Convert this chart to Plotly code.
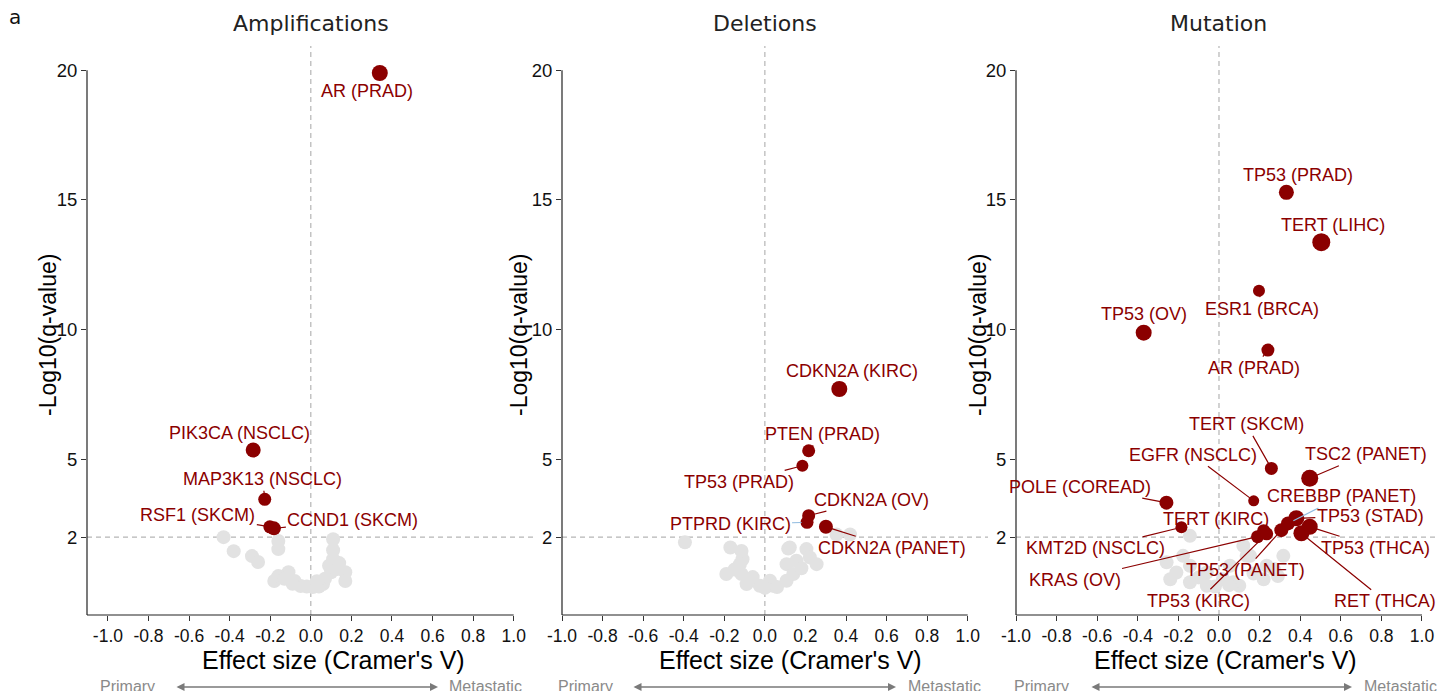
import plotly.graph_objects as go

# ---------------- data ----------------
# Amplifications: significant hits
amp_labels = ["AR (PRAD)", "PIK3CA (NSCLC)", "MAP3K13 (NSCLC)", "RSF1 (SKCM)", "CCND1 (SKCM)"]
amp_effect = [0.34, -0.284, -0.227, -0.202, -0.182]
amp_logq = [19.89, 5.36, 3.46, 2.40, 2.34]
amp_weight = [16, 15, 13, 13, 14]
# Amplifications: non-significant tests
amp_ns_effect = [-0.43, -0.38, -0.29, -0.26, -0.16, -0.16, -0.18, -0.16, -0.11, -0.08, -0.05,
                 0.01, 0.06, 0.10, 0.11, 0.11, 0.13, 0.17, 0.17, 0.11, 0.09, 0.07, -0.02,
                 0.04, -0.13, -0.09, 0.14, 0.03]
amp_ns_logq = [2.0, 1.46, 1.27, 1.04, 1.85, 1.54, 0.31, 0.5, 0.65, 0.31, 0.12,
               0.08, 0.19, 0.65, 1.15, 1.92, 0.77, 0.65, 0.31, 1.5, 0.9, 0.4, 0.1,
               0.1, 0.4, 0.2, 1.0, 0.3]

# Deletions: significant hits
del_labels = ["CDKN2A (KIRC)", "PTEN (PRAD)", "TP53 (PRAD)", "CDKN2A (OV)", "PTPRD (KIRC)", "CDKN2A (PANET)"]
del_effect = [0.367, 0.216, 0.185, 0.216, 0.208, 0.301]
del_logq = [7.71, 5.33, 4.75, 2.83, 2.57, 2.40]
del_weight = [16, 13, 12, 13, 13, 14]
# Deletions: non-significant tests
del_ns_effect = [-0.394, -0.17, -0.115, -0.11, -0.19, -0.115, -0.09, -0.025, 0.04, 0.107,
                 0.123, 0.205, 0.107, 0.156, 0.222, 0.255, 0.14, 0.353, 0.42, -0.123,
                 -0.06, 0.025, 0.115, 0.0, 0.06, -0.15, 0.18]
del_ns_logq = [1.80, 1.6, 1.47, 1.15, 0.58, 0.58, 0.19, 0.13, 0.13, 0.32,
               1.6, 1.54, 0.96, 1.09, 1.22, 0.96, 0.58, 2.1, 2.1, 0.96,
               0.46, 0.32, 1.56, 0.05, 0.08, 0.75, 0.8]

# Mutations: significant hits
mut_labels = ["TP53 (PRAD)", "TERT (LIHC)", "ESR1 (BRCA)", "TP53 (OV)", "AR (PRAD)",
              "TERT (SKCM)", "TSC2 (PANET)", "EGFR (NSCLC)", "POLE (COREAD)", "KMT2D (NSCLC)",
              "TERT (KIRC)", "KRAS (OV)", "TP53 (KIRC)", "TP53 (PANET)", "CREBBP (PANET)",
              "TP53 (STAD)", "TP53 (THCA)", "RET (THCA)"]
mut_effect = [0.332, 0.504, 0.197, -0.371, 0.241,
              0.258, 0.447, 0.171, -0.259, -0.185,
              0.22, 0.19, 0.235, 0.307, 0.34,
              0.381, 0.447, 0.406]
mut_logq = [15.29, 13.37, 11.50, 9.88, 9.21,
            4.65, 4.27, 3.40, 3.33, 2.38,
            2.25, 2.02, 2.13, 2.27, 2.53,
            2.73, 2.40, 2.15]
mut_weight = [15, 18, 12, 16, 13,
              13, 17, 11, 14, 12,
              13, 13, 13, 14, 14,
              16, 16, 16]
# Mutations: non-significant tests
mut_ns_effect = [-0.143, -0.258, -0.24, -0.143, -0.06, 0.12, 0.136, 0.317, 0.235, 0.02,
                 -0.143, -0.06, 0.10, 0.22, 0.27, -0.21, 0.054, -0.177, 0.153, 0.07,
                 -0.10, 0.17, 0.29, -0.02, 0.05]
mut_ns_logq = [2.05, 1.03, 0.38, 0.9, 0.64, 1.67, 1.28, 1.28, 0.9, 0.38,
               0.26, 0.13, 0.13, 0.38, 0.77, 0.64, 0.9, 1.28, 1.28, 0.26,
               0.45, 0.6, 0.5, 0.1, 0.15]

y_ticks = [2, 5, 10, 15, 20]
x_ticks = [-1.0, -0.8, -0.6, -0.4, -0.2, 0.0, 0.2, 0.4, 0.6, 0.8, 1.0]
panel_titles = ["Amplifications", "Deletions", "Mutation"]
q_cutoff = 2

# ---------------- layout constants ----------------
W, H = 1437, 691
HIT = "#8b0000"
NS = "#e2e2e2"
LABEL_FONT = "Liberation Sans, Arial, sans-serif"
TITLE_FONT = "DejaVu Sans, sans-serif"

# plotting regions (pixels): left, right, and x range of each panel
panels = [
    dict(left=87, right=534, xr=[-1.103, 1.1]),
    dict(left=562, right=988, xr=[-1.0, 1.1]),
    dict(left=1016, right=1437, xr=[-1.0, 1.074]),
]
top_px, bottom_px = 46, 615
y_range = [-1.0, 20.93]

# label offsets (pixels from the point) for the repelled labels
amp_offsets = [(-13, 18), (-14, -17), (-2, -20), (-72, -12), (79, -8)]
del_offsets = [(13, -18), (14, -17), (-63, 16), (63, -16), (-77, 2), (66, 21)]
mut_offsets = [(12, -17), (12, -17), (3, 18), (0, -19), (-14, 18),
               (-25, -44), (56, -24), (-61, -46), (-86, -16), (-86, 21),
               (-48, -12), (-183, 43), (-68, 67), (-36, 40), (53, -27),
               (74, -2), (66, 21), (84, 68)]
blue_segments = {"PTPRD (KIRC)", "CREBBP (PANET)", "TERT (KIRC)"}

fig = go.Figure()

datasets = [
    (amp_labels, amp_effect, amp_logq, amp_weight, amp_ns_effect, amp_ns_logq, amp_offsets),
    (del_labels, del_effect, del_logq, del_weight, del_ns_effect, del_ns_logq, del_offsets),
    (mut_labels, mut_effect, mut_logq, mut_weight, mut_ns_effect, mut_ns_logq, mut_offsets),
]

annotations = []
shapes = []
layout_axes = {}

y0_dom = (H - bottom_px) / H
y1_dom = (H - top_px) / H


def paper_text(px, py, text, size, color, family=LABEL_FONT, xanchor="center", angle=0):
    return dict(x=px / W, y=(H - py) / H, xref="paper", yref="paper", text=text,
                showarrow=False, xanchor=xanchor, yanchor="middle", textangle=angle,
                font=dict(family=family, size=size, color=color))


for i, (labels, ex, ly, wt, nx, ny, offs) in enumerate(datasets):
    k = "" if i == 0 else str(i + 1)
    xa, ya = "x" + k, "y" + k
    p = panels[i]

    fig.add_trace(go.Scatter(
        x=nx, y=ny, mode="markers", xaxis=xa, yaxis=ya,
        marker=dict(color=NS, size=14, opacity=1, line=dict(width=0)),
        hoverinfo="skip", showlegend=False))
    fig.add_trace(go.Scatter(
        x=ex, y=ly, mode="markers", xaxis=xa, yaxis=ya, text=labels,
        marker=dict(color=HIT, size=wt, opacity=1, line=dict(width=0)),
        showlegend=False))

    layout_axes["xaxis" + k] = dict(
        domain=[p["left"] / W, p["right"] / W], range=p["xr"], anchor=ya,
        tickvals=x_ticks, ticktext=[f"{v:.1f}" for v in x_ticks],
        ticks="outside", ticklen=5, tickwidth=1, tickcolor="#333",
        showline=False, showgrid=False, zeroline=False, automargin=False,
        tickfont=dict(family=LABEL_FONT, size=17.5, color="#111"))
    layout_axes["yaxis" + k] = dict(
        domain=[y0_dom, y1_dom], range=y_range, anchor=xa,
        tickvals=y_ticks, ticks="outside", ticklen=5, tickwidth=1, tickcolor="#333",
        showline=False, showgrid=False, zeroline=False, automargin=False,
        tickfont=dict(family=LABEL_FONT, size=18.5, color="#111"))

    # reference lines
    shapes.append(dict(type="line", xref=xa, yref=ya + " domain", x0=0, x1=0, y0=0, y1=1,
                       line=dict(color="#b5b5b5", width=1.2, dash="5px,4px"), layer="below"))
    shapes.append(dict(type="line", xref=xa + " domain", yref=ya, x0=0, x1=1,
                       y0=q_cutoff, y1=q_cutoff,
                       line=dict(color="#b5b5b5", width=1.2, dash="5px,4px"), layer="below"))
    # axis lines (y capped at the top tick, x capped at the last tick)
    shapes.append(dict(type="line", xref=xa + " domain", yref=ya, x0=0, x1=0,
                       y0=y_range[0], y1=max(y_ticks), line=dict(color="#222", width=1.2)))
    shapes.append(dict(type="line", xref=xa, yref=ya + " domain", x0=p["xr"][0],
                       x1=max(x_ticks), y0=0, y1=0, line=dict(color="#222", width=1.2)))

    # repelled labels
    for lab, xv, yv, w, (dx, dy) in zip(labels, ex, ly, wt, offs):
        annotations.append(dict(
            x=xv, y=yv, xref=xa, yref=ya, text=lab, showarrow=True,
            ax=dx, ay=dy, arrowhead=0, arrowwidth=1.2, standoff=w / 2 - 1,
            xanchor="center", yanchor="middle",
            arrowcolor="#8fbbe0" if lab in blue_segments else HIT,
            font=dict(family=LABEL_FONT, size=18, color=HIT)))

    zero_px = p["left"] - p["xr"][0] * (p["right"] - p["left"]) / (p["xr"][1] - p["xr"][0])
    annotations.append(paper_text(zero_px, 23, panel_titles[i], 22, "#222", TITLE_FONT))

# axis titles
for cx in [333, 790, 1225]:
    annotations.append(paper_text(cx, 660, "Effect size (Cramer's V)", 25, "#000"))
for cx in [48, 519, 978]:
    annotations.append(paper_text(cx, 335, "-Log10(q-value)", 23, "#000", angle=-90))

# direction hints under each x axis
for prim_x, a0, a1, met_x in [(127, 175, 438, 447), (585, 632, 896, 906), (1041, 1090, 1352, 1362)]:
    annotations.append(paper_text(prim_x, 686, "Primary", 16, "#8a8a8a"))
    annotations.append(paper_text(met_x, 686, "Metastatic", 16, "#8a8a8a", xanchor="left"))
    annotations.append(dict(x=a1 / W, y=(H - 687) / H, xref="paper", yref="paper",
                            ax=a0 - a1, ay=0, text="", showarrow=True,
                            arrowside="end+start", arrowhead=2, arrowsize=1,
                            arrowwidth=1.6, arrowcolor="#7a7a7a"))

annotations.append(paper_text(15, 17, "a", 20, "#111", TITLE_FONT))

fig.update_layout(
    width=W, height=H, margin=dict(l=0, r=0, t=0, b=0, autoexpand=False),
    paper_bgcolor="white", plot_bgcolor="white",
    annotations=annotations, shapes=shapes, **layout_axes)

fig.write_html("out.html")
